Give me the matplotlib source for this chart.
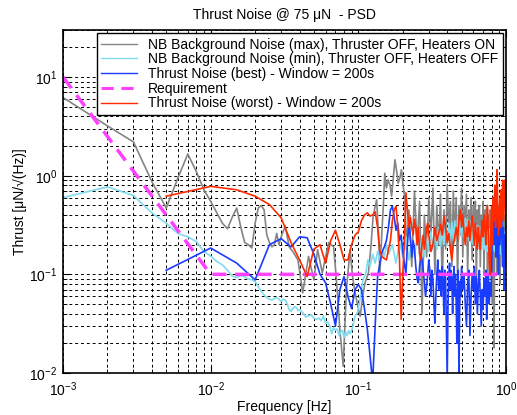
import matplotlib
matplotlib.use("Agg")
import matplotlib.pyplot as plt
from matplotlib.ticker import LogLocator, NullFormatter

plt.rcParams['font.family'] = ['Liberation Sans', 'DejaVu Sans']
plt.rcParams['mathtext.fontset'] = 'custom'
plt.rcParams['mathtext.rm'] = 'Liberation Sans'

# --- data ---
# NB background noise (max), thruster OFF, heaters ON
max_bg_freq = [0.001, 0.002, 0.003, 0.004, 0.005, 0.006, 0.007, 0.008, 0.009, 0.010,
               0.011, 0.012, 0.013, 0.014, 0.015, 0.016, 0.017, 0.018, 0.019, 0.020,
               0.021, 0.022, 0.023, 0.024, 0.025, 0.026, 0.027, 0.028, 0.029, 0.030,
               0.032, 0.034, 0.036, 0.039, 0.042, 0.046, 0.050, 0.053, 0.057, 0.060,
               0.063, 0.068, 0.071, 0.075, 0.079, 0.083, 0.088, 0.091, 0.095, 0.100,
               0.103, 0.107, 0.111, 0.117, 0.122, 0.126, 0.133, 0.137, 0.140, 0.145,
               0.148, 0.151, 0.155, 0.159, 0.164, 0.168, 0.172, 0.177, 0.182, 0.186,
               0.191, 0.196, 0.201, 0.207, 0.212,
               0.22, 0.23, 0.24, 0.25, 0.26, 0.27, 0.28, 0.29, 0.30, 0.31,
               0.32, 0.33, 0.34, 0.35, 0.36, 0.37, 0.38, 0.39, 0.40, 0.41,
               0.42, 0.43, 0.44, 0.45, 0.46, 0.47, 0.48, 0.49, 0.50, 0.51,
               0.52, 0.53, 0.54, 0.55, 0.56, 0.57, 0.58, 0.59, 0.60, 0.61,
               0.62, 0.63, 0.64, 0.65, 0.66, 0.67, 0.68, 0.69, 0.70, 0.71,
               0.72, 0.73, 0.74, 0.75, 0.76, 0.77, 0.78, 0.79, 0.80, 0.81,
               0.82, 0.83, 0.84, 0.85, 0.86, 0.87, 0.88, 0.89, 0.90, 0.91,
               0.92, 0.93, 0.94, 0.95, 0.96, 0.97, 0.98, 0.99, 1.00]
max_bg_psd = [6.2, 3.2, 2.2, 0.87, 0.47, 0.95, 1.66, 1.1, 0.72, 0.55,
              0.42, 0.33, 0.29, 0.38, 0.47, 0.3, 0.21, 0.2, 0.185, 0.33,
              0.47, 0.5, 0.45, 0.25, 0.21, 0.19, 0.2, 0.26, 0.2, 0.24,
              0.31, 0.19, 0.17, 0.14, 0.065, 0.152, 0.088, 0.178, 0.103, 0.15,
              0.21, 0.19, 0.09, 0.0275, 0.0117, 0.07, 0.178, 0.1, 0.065, 0.045,
              0.0375, 0.06, 0.082, 0.103, 0.2, 0.39, 0.57, 0.25, 0.103, 0.3,
              0.53, 1.06, 0.75, 0.91, 0.8, 0.62, 0.9, 1.45, 1.1, 0.84,
              0.95, 1.15, 0.8, 0.57, 0.178,
              0.45, 0.12, 0.7, 0.2, 0.55, 0.04, 0.4, 0.15, 0.6, 0.25,
              0.75, 0.1, 0.5, 0.2, 0.65, 0.07, 0.45, 0.18, 0.8, 0.3,
              0.55, 0.12, 0.7, 0.22, 0.6, 0.09, 0.5, 0.25, 0.75, 0.15,
              0.5, 0.3, 0.65, 0.1, 0.45, 0.25, 0.6, 0.14, 0.5, 0.2,
              0.55, 0.08, 0.45, 0.25, 0.5, 0.12, 0.4, 0.2, 0.55, 0.1,
              0.45, 0.22, 0.5, 0.07, 0.4, 0.2, 0.45, 0.1, 0.35, 0.05,
              0.4, 0.018, 0.35, 0.15, 0.45, 0.1, 0.4, 0.2, 0.5, 0.08,
              0.35, 0.2, 0.45, 0.12, 0.35, 0.09, 0.4, 0.2, 0.3]

# NB background noise (min), thruster OFF, heaters OFF
min_bg_freq = [0.001, 0.002, 0.003, 0.004, 0.005, 0.006, 0.007, 0.008, 0.009, 0.010,
               0.011, 0.012, 0.013, 0.014, 0.015, 0.016, 0.017, 0.018, 0.019, 0.020,
               0.021, 0.022, 0.023, 0.024, 0.025, 0.026, 0.027, 0.028, 0.029, 0.030,
               0.031, 0.032, 0.033, 0.034, 0.035, 0.036, 0.037, 0.038, 0.039, 0.040,
               0.042, 0.044, 0.046, 0.048, 0.050, 0.052, 0.054, 0.056, 0.058, 0.060,
               0.062, 0.064, 0.066, 0.068, 0.070, 0.072, 0.074, 0.076, 0.078, 0.080,
               0.082, 0.084, 0.086, 0.088, 0.090, 0.092, 0.094, 0.096, 0.098, 0.100,
               0.102, 0.105, 0.108, 0.112, 0.116, 0.120, 0.125, 0.130, 0.135, 0.140,
               0.145, 0.150, 0.155, 0.160, 0.17, 0.18, 0.19, 0.20,
               0.21, 0.22, 0.23, 0.24, 0.25, 0.26, 0.27, 0.28, 0.29, 0.30,
               0.31, 0.32, 0.33, 0.34, 0.35, 0.36, 0.37, 0.38, 0.39, 0.40,
               0.41, 0.42, 0.43, 0.44, 0.45, 0.46, 0.47, 0.48, 0.49, 0.50,
               0.51, 0.52, 0.53, 0.54, 0.55, 0.56, 0.57, 0.58, 0.59, 0.60,
               0.61, 0.62, 0.63, 0.64, 0.65, 0.66, 0.67, 0.68, 0.69, 0.70,
               0.71, 0.72, 0.73, 0.74, 0.75, 0.76, 0.77, 0.78, 0.79, 0.80,
               0.81, 0.82, 0.83, 0.84, 0.85, 0.86, 0.87, 0.88, 0.89, 0.90,
               0.91, 0.92, 0.93, 0.94, 0.95, 0.96, 0.97, 0.98, 0.99, 1.00]
min_bg_psd = [0.6, 0.77, 0.63, 0.42, 0.33, 0.26, 0.24, 0.215, 0.17, 0.153,
              0.135, 0.125, 0.11, 0.096, 0.093, 0.097, 0.095, 0.09, 0.088, 0.085,
              0.075, 0.067, 0.062, 0.058, 0.056, 0.055, 0.057, 0.058, 0.056, 0.053,
              0.056, 0.055, 0.05, 0.044, 0.042, 0.045, 0.047, 0.046, 0.043, 0.044,
              0.041, 0.037, 0.038, 0.039, 0.036, 0.035, 0.036, 0.034, 0.038, 0.032,
              0.033, 0.03, 0.025, 0.029, 0.027, 0.028, 0.024, 0.026, 0.027, 0.023,
              0.026, 0.024, 0.027, 0.025, 0.027, 0.03, 0.036, 0.039, 0.04, 0.045,
              0.053, 0.07, 0.09, 0.1, 0.14, 0.12, 0.16, 0.13, 0.17, 0.14,
              0.18, 0.15, 0.2, 0.16, 0.2, 0.13, 0.22, 0.15,
              0.24, 0.14, 0.22, 0.15, 0.25, 0.16, 0.24, 0.15, 0.26, 0.17,
              0.27, 0.18, 0.28, 0.18, 0.3, 0.19, 0.3, 0.2, 0.32, 0.2,
              0.33, 0.21, 0.34, 0.22, 0.35, 0.22, 0.36, 0.23, 0.37, 0.24,
              0.38, 0.24, 0.37, 0.23, 0.36, 0.22, 0.35, 0.21, 0.34, 0.2,
              0.33, 0.2, 0.32, 0.19, 0.31, 0.19, 0.3, 0.18, 0.31, 0.18,
              0.3, 0.18, 0.29, 0.17, 0.28, 0.17, 0.29, 0.18, 0.28, 0.17,
              0.29, 0.18, 0.3, 0.17, 0.3, 0.18, 0.29, 0.17, 0.3, 0.17,
              0.28, 0.16, 0.27, 0.17, 0.26, 0.16, 0.27, 0.15, 0.26, 0.25]

# Thrust noise (best), window = 200 s
best_freq = [0.005, 0.010, 0.015, 0.020, 0.025, 0.030, 0.035, 0.040, 0.045, 0.050,
             0.055, 0.060, 0.065, 0.070, 0.075, 0.080, 0.085, 0.090, 0.095, 0.100,
             0.105, 0.110, 0.115, 0.120, 0.125, 0.130, 0.135, 0.140, 0.145, 0.150,
             0.155, 0.160, 0.165, 0.170, 0.175, 0.180, 0.185, 0.190, 0.195, 0.200,
             0.205, 0.210, 0.215, 0.220, 0.225, 0.230, 0.235, 0.240, 0.245, 0.250,
             0.255, 0.260, 0.265, 0.270, 0.275, 0.280, 0.285, 0.290, 0.295, 0.300,
             0.305, 0.310, 0.315, 0.320, 0.325, 0.330, 0.335, 0.340, 0.345, 0.350,
             0.355, 0.360, 0.365, 0.370, 0.375, 0.380, 0.385, 0.390, 0.395, 0.400,
             0.405, 0.410, 0.415, 0.420, 0.425, 0.430, 0.435, 0.440, 0.445, 0.450,
             0.455, 0.460, 0.465, 0.470, 0.475, 0.480, 0.485, 0.490, 0.495, 0.500,
             0.51, 0.52, 0.53, 0.54, 0.55, 0.56, 0.57, 0.58, 0.59, 0.60,
             0.61, 0.62, 0.63, 0.64, 0.65, 0.66, 0.67, 0.68, 0.69, 0.70,
             0.71, 0.72, 0.73, 0.74, 0.75, 0.76, 0.77, 0.78, 0.79, 0.80,
             0.81, 0.82, 0.83, 0.84, 0.85, 0.86, 0.87, 0.88, 0.89, 0.90,
             0.91, 0.92, 0.93, 0.94, 0.95, 0.96, 0.97, 0.98, 0.99, 1.00]
best_psd = [0.11, 0.185, 0.13, 0.088, 0.2, 0.23, 0.19, 0.24, 0.235, 0.16,
            0.1, 0.082, 0.05, 0.03, 0.07, 0.095, 0.06, 0.045, 0.07, 0.079,
            0.07, 0.045, 0.028, 0.015, 0.008, 0.03, 0.095, 0.13, 0.17, 0.19,
            0.22, 0.3, 0.45, 0.49, 0.38, 0.28, 0.33, 0.22, 0.25, 0.17,
            0.13, 0.1, 0.2, 0.33, 0.24, 0.15, 0.22, 0.18, 0.12, 0.09,
            0.082, 0.12, 0.16, 0.14, 0.11, 0.085, 0.06, 0.075, 0.1, 0.14,
            0.11, 0.06, 0.11, 0.09, 0.05, 0.032, 0.06, 0.1, 0.14, 0.07,
            0.11, 0.095, 0.06, 0.12, 0.08, 0.04, 0.11, 0.09, 0.03, 0.009,
            0.05, 0.1, 0.13, 0.07, 0.11, 0.088, 0.04, 0.09, 0.12, 0.06,
            0.1, 0.05, 0.02, 0.07, 0.11, 0.009, 0.04, 0.085, 0.06, 0.12,
            0.07, 0.1, 0.05, 0.03, 0.08, 0.11, 0.024, 0.06, 0.1, 0.07,
            0.12, 0.05, 0.095, 0.04, 0.08, 0.11, 0.06, 0.03, 0.07, 0.044,
            0.09, 0.06, 0.11, 0.035, 0.08, 0.1, 0.05, 0.082, 0.06, 0.12,
            0.3, 0.55, 0.2, 0.67, 0.35, 0.15, 0.4, 0.26, 0.1, 0.45,
            0.2, 0.35, 0.57, 0.2, 0.12, 0.3, 0.07, 0.25, 0.15, 0.12]

# Requirement
req_freq = [0.001, 0.01, 1.0]
req_psd = [10.0, 0.1, 0.1]

# Thrust noise (worst), window = 200 s
worst_freq = [0.005, 0.010, 0.015, 0.020, 0.025, 0.030, 0.035, 0.040, 0.045, 0.050,
              0.055, 0.060, 0.065, 0.070, 0.075, 0.080, 0.085, 0.090, 0.095, 0.100,
              0.105, 0.110, 0.115, 0.120, 0.125, 0.130, 0.135, 0.140, 0.145, 0.150,
              0.155, 0.160, 0.165, 0.170, 0.175, 0.180, 0.185, 0.190, 0.195, 0.200,
              0.205, 0.210, 0.215, 0.220, 0.225, 0.230, 0.235, 0.240, 0.245, 0.250,
              0.255, 0.260, 0.265, 0.270, 0.275, 0.280, 0.285, 0.290, 0.295, 0.300,
              0.31, 0.32, 0.33, 0.34, 0.35, 0.36, 0.37, 0.38, 0.39, 0.40,
              0.41, 0.42, 0.43, 0.44, 0.45, 0.46, 0.47, 0.48, 0.49, 0.50,
              0.51, 0.52, 0.53, 0.54, 0.55, 0.56, 0.57, 0.58, 0.59, 0.60,
              0.61, 0.62, 0.63, 0.64, 0.65, 0.66, 0.67, 0.68, 0.69, 0.70,
              0.71, 0.72, 0.73, 0.74, 0.75, 0.76, 0.77, 0.78, 0.79, 0.80,
              0.81, 0.82, 0.83, 0.84, 0.85, 0.86, 0.87, 0.88, 0.89, 0.90,
              0.91, 0.92, 0.93, 0.94, 0.95, 0.96, 0.97, 0.98, 0.99, 1.00]
worst_psd = [0.62, 0.78, 0.72, 0.62, 0.51, 0.375, 0.21, 0.14, 0.095, 0.18,
             0.2, 0.13, 0.22, 0.28, 0.2, 0.14, 0.14, 0.2, 0.25, 0.27,
             0.35, 0.4, 0.42, 0.39, 0.4, 0.43, 0.3, 0.17, 0.15, 0.145,
             0.14, 0.18, 0.22, 0.35, 0.45, 0.49, 0.3, 0.14, 0.035, 0.1,
             0.22, 0.67, 0.45, 0.3, 0.38, 0.3, 0.25, 0.36, 0.3, 0.2,
             0.3, 0.16, 0.14, 0.2, 0.25, 0.18, 0.22, 0.3, 0.33, 0.25,
             0.17, 0.2, 0.3, 0.22, 0.26, 0.32, 0.25, 0.39, 0.3, 0.21,
             0.26, 0.18, 0.14, 0.2, 0.24, 0.3, 0.22, 0.35, 0.45, 0.3,
             0.4, 0.27, 0.2, 0.3, 0.24, 0.35, 0.22, 0.3, 0.39, 0.28,
             0.2, 0.33, 0.25, 0.18, 0.3, 0.22, 0.18, 0.28, 0.35, 0.24,
             0.4, 0.3, 0.2, 0.32, 0.5, 0.25, 0.13, 0.1, 0.3, 0.49,
             0.2, 0.6, 0.35, 0.8, 0.3, 0.5, 1.15, 0.45, 0.25, 0.39,
             0.6, 0.3, 0.72, 0.4, 0.9, 0.35, 0.6, 0.9, 0.5, 0.3]

labels = ["NB Background Noise (max), Thruster OFF, Heaters ON",
          "NB Background Noise (min), Thruster OFF, Heaters OFF",
          "Thrust Noise (best) - Window = 200s",
          "Requirement",
          "Thrust Noise (worst) - Window = 200s"]

fig = plt.figure(figsize=(5.17, 4.15), dpi=100)
ax = fig.add_axes([0.1219, 0.1012, 0.8568, 0.8265])

ax.loglog(max_bg_freq, max_bg_psd, color='#858585', lw=1.2, label=labels[0])
ax.loglog(min_bg_freq, min_bg_psd, color='#80dcf0', lw=1.2, label=labels[1])
ax.loglog(best_freq, best_psd, color='#1a3cff', lw=1.2, label=labels[2])
ax.loglog(req_freq, req_psd, color='#ff40ff', lw=2.5, ls=(0, (4, 2.5)), label=labels[3])
ax.loglog(worst_freq, worst_psd, color='#ff2a00', lw=1.2, label=labels[4])

ax.set_xlim(1e-3, 1)
ax.set_ylim(1e-2, 30)

ax.yaxis.set_major_locator(LogLocator(base=10, numticks=10))
ax.yaxis.set_minor_locator(LogLocator(base=10, subs=range(2, 10), numticks=20))
ax.yaxis.set_minor_formatter(NullFormatter())
ax.xaxis.set_minor_formatter(NullFormatter())

ax.grid(True, which='both', color='k', ls=(0, (3, 3)), lw=0.7)
ax.set_axisbelow(True)
ax.tick_params(which='both', direction='in', top=True, right=True, labelsize=10)
ax.tick_params(which='major', length=5)
ax.tick_params(which='minor', length=3)
ax.tick_params(axis='x', pad=5)
ax.tick_params(axis='y', pad=4)
for s in ax.spines.values():
    s.set_linewidth(1.2)

ax.set_title("Thrust Noise @ 75 \u03bcN  - PSD", fontsize=10, pad=8)
ax.set_xlabel("Frequency [Hz]", fontsize=10, labelpad=1)
ax.set_ylabel("Thrust [\u03bcN/\u221a(Hz)]", fontsize=10, labelpad=2)

leg = ax.legend(loc='upper right', fontsize=10, frameon=True, fancybox=False,
                edgecolor='k', framealpha=1, borderpad=0.3, labelspacing=0.05,
                handlelength=2.6, borderaxespad=0.25)
leg.get_frame().set_linewidth(1.0)
for line in leg.get_lines():
    line.set_linewidth(1.0)
leg.get_lines()[3].set_linewidth(2.2)

fig.savefig("out.png", dpi=100)
